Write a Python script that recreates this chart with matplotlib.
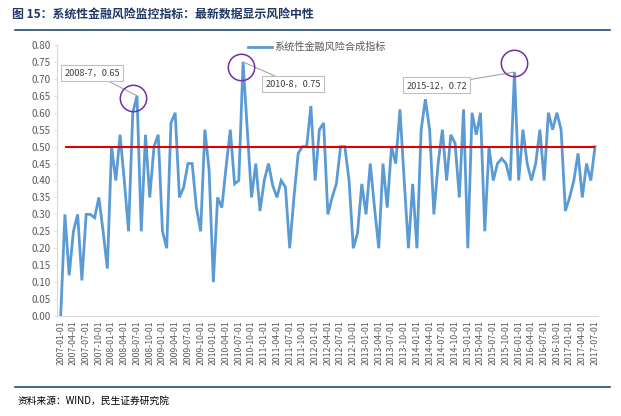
import matplotlib
matplotlib.use('Agg')
import matplotlib.pyplot as plt
from matplotlib.lines import Line2D
from matplotlib.transforms import offset_copy
import numpy as np
import pandas as pd

plt.rcParams['font.family'] = ['Noto Sans CJK SC', 'DejaVu Sans']

# monthly index, 2007-01 .. 2017-07
months = pd.date_range('2007-01-01', '2017-07-01', freq='MS')
risk_index = [
    0.00, 0.30, 0.12, 0.25, 0.30, 0.105, 0.30, 0.30, 0.29, 0.35, 0.25, 0.14,   # 2007
    0.50, 0.40, 0.535, 0.40, 0.25, 0.60, 0.65, 0.25, 0.535, 0.35, 0.50, 0.535,  # 2008
    0.25, 0.20, 0.57, 0.60, 0.35, 0.38, 0.45, 0.45, 0.32, 0.25, 0.55, 0.43,     # 2009
    0.10, 0.35, 0.32, 0.44, 0.55, 0.39, 0.40, 0.75, 0.55, 0.35, 0.45, 0.31,     # 2010
    0.40, 0.45, 0.385, 0.35, 0.40, 0.38, 0.20, 0.35, 0.48, 0.50, 0.50, 0.62,    # 2011
    0.40, 0.55, 0.57, 0.30, 0.35, 0.39, 0.50, 0.50, 0.40, 0.20, 0.245, 0.39,    # 2012
    0.30, 0.45, 0.32, 0.20, 0.45, 0.32, 0.50, 0.45, 0.61, 0.40, 0.20, 0.39,     # 2013
    0.20, 0.55, 0.64, 0.55, 0.30, 0.45, 0.55, 0.40, 0.535, 0.51, 0.35, 0.61,    # 2014
    0.20, 0.60, 0.535, 0.60, 0.25, 0.50, 0.40, 0.45, 0.465, 0.45, 0.40, 0.72,   # 2015
    0.40, 0.55, 0.45, 0.40, 0.45, 0.55, 0.40, 0.60, 0.55, 0.60, 0.55, 0.31,     # 2016
    0.35, 0.40, 0.48, 0.35, 0.45, 0.40, 0.50,                                   # 2017
]
neutral_level = 0.5
callouts = [('2008-07-01', '2008-7，0.65'),
            ('2010-08-01', '2010-8，0.75'),
            ('2015-12-01', '2015-12，0.72')]

idx = np.arange(len(months))
tick_idx = idx[::3]
tick_labels = [m.strftime('%Y-%m-%d') for m in months[::3]]

W, H = 621, 416
fig = plt.figure(figsize=(W / 100, H / 100), dpi=100)
ax = fig.add_axes([57 / W, 1 - 316 / H, (598 - 57) / W, (316 - 45) / H])

line, = ax.plot(idx, risk_index, color='#5B9BD5', lw=2.0,
                label='系统性金融风险合成指标', solid_joinstyle='miter')
ax.hlines(neutral_level, idx[1], idx[-1], color='#E00000', lw=1.5, zorder=3)

ax.set_xlim(-0.87, 126.7)
ax.set_ylim(0, 0.8)
ax.set_yticks(np.arange(0, 0.801, 0.05))
ax.yaxis.set_major_formatter(matplotlib.ticker.FormatStrFormatter('%.2f'))
ax.set_xticks(tick_idx)
ax.set_xticklabels(tick_labels, rotation=90)
ax.tick_params(axis='y', labelsize=7, colors='#595959', length=2.5,
               width=0.6, color='#D9D9D9', pad=2)
ax.tick_params(axis='x', labelsize=6.3, colors='#595959', length=0, pad=3)
for s in ['top', 'right']:
    ax.spines[s].set_visible(False)
for s in ['left', 'bottom']:
    ax.spines[s].set_color('#D9D9D9')
    ax.spines[s].set_linewidth(0.8)

ax.legend(handles=[line], loc='upper left', frameon=False, fontsize=7.3,
          handlelength=2.4, handletextpad=0.15, borderpad=0, borderaxespad=0,
          labelcolor='#595959',
          bbox_to_anchor=(248 / W, 1 - 42 / H), bbox_transform=fig.transFigure)

# callout boxes and circles
box_offsets = [(-45, 23), (50, -22), (-78, -13)]
circle_offsets = [(-4.5, -2), (-2.3, -5.3), (-0.6, 9.3)]
for (d, txt), boff, coff in zip(callouts, box_offsets, circle_offsets):
    i = months.get_loc(pd.Timestamp(d))
    v = risk_index[i]
    ax.annotate(txt, xy=(i, v), xytext=boff, textcoords='offset pixels',
                ha='center', va='center', fontsize=6.6, color='#404040',
                bbox=dict(boxstyle='square,pad=0.35', fc='white',
                          ec='#BFBFBF', lw=0.8),
                arrowprops=dict(arrowstyle='-', color='#A6A6A6', lw=0.8,
                                shrinkA=0, shrinkB=0))
    tr = offset_copy(ax.transData, fig=fig, x=coff[0], y=coff[1], units='dots')
    ax.plot([i], [v], 'o', ms=19, mfc='none', mec='#7030A0', mew=1.1,
            transform=tr, clip_on=False, zorder=5)

# header / footer
fig.text(12 / W, 1 - 14 / H, '图 15：系统性金融风险监控指标：最新数据显示风险中性',
         fontsize=8.6, fontweight='bold', color='#1F3864', va='center')
fig.add_artist(Line2D([15 / W, 610 / W], [1 - 30 / H] * 2,
                      color='#1F4E79', lw=1.2))
fig.add_artist(Line2D([15 / W, 610 / W], [1 - 387 / H] * 2,
                      color='#1F4E79', lw=1.2))
fig.text(18 / W, 1 - 401 / H, '资料来源：WIND，民生证券研究院',
         fontsize=7, color='black', va='center')

fig.savefig('out.png', dpi=100)
